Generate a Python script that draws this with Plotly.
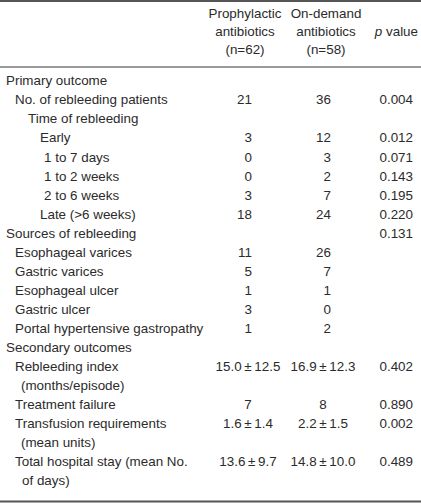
import plotly.graph_objects as go

# ---------------- data ----------------
row_labels = [
    "Primary outcome",
    "No. of rebleeding patients",
    "Time of rebleeding",
    "Early",
    "1 to 7 days",
    "1 to 2 weeks",
    "2 to 6 weeks",
    "Late (>6 weeks)",
    "Sources of rebleeding",
    "Esophageal varices",
    "Gastric varices",
    "Esophageal ulcer",
    "Gastric ulcer",
    "Portal hypertensive gastropathy",
    "Secondary outcomes",
    "Rebleeding index",
    "(months/episode)",
    "Treatment failure",
    "Transfusion requirements",
    "(mean units)",
    "Total hospital stay (mean No.",
    "of days)",
]
PM = "\u2009\u00b1\u2009"
prophylactic = ["", "21", "", "3", "0", "0", "3", "18", "", "11", "5", "1", "3", "1",
                "", "15.0" + PM + "12.5", "", "7", "1.6" + PM + "1.4", "", "13.6" + PM + "9.7", ""]
on_demand = ["", "36", "", "12", "3", "2", "7", "24", "", "26", "7", "1", "0", "2",
             "", "16.9" + PM + "12.3", "", "8", "2.2" + PM + "1.5", "", "14.8" + PM + "10.0", ""]
p_values = ["", "0.004", "", "0.012", "0.071", "0.143", "0.195", "0.220", "0.131",
            "", "", "", "", "", "", "0.402", "", "0.890", "0.002", "", "0.489", ""]
header_col1 = ["Prophylactic", "antibiotics", "(n=62)"]
header_col2 = ["On-demand", "antibiotics", "(n=58)"]
header_col3 = ["", "<i>p</i> value", ""]

# ---------------- layout constants ----------------
W, H = 421, 503
FONT = dict(family="Liberation Sans, Arial, sans-serif", size=13.4, color="#2b2b2b")
indent_px = [6, 15, 28, 40, 44, 44, 44, 40, 6, 15, 15, 15, 15, 15, 6, 15, 21, 15, 15, 21, 15, 22]
row_y = [82 + i * 19.05 for i in range(len(row_labels))]
header_y = [15, 33, 51]
secondary = [i >= 14 for i in range(len(row_labels))]

fig = go.Figure()

# row labels
fig.add_trace(go.Scatter(
    x=indent_px, y=row_y, text=row_labels, mode="text",
    textposition="middle right", textfont=FONT, hoverinfo="skip", showlegend=False))

# column 1
c1x = [248 if s else 252 for s in secondary]
c1pos = ["middle center" if s else "middle left" for s in secondary]
fig.add_trace(go.Scatter(
    x=c1x, y=row_y, text=prophylactic, mode="text",
    textposition=c1pos, textfont=FONT, hoverinfo="skip", showlegend=False))

# column 2
c2x = [323 if s else 331 for s in secondary]
c2pos = ["middle center" if s else "middle left" for s in secondary]
fig.add_trace(go.Scatter(
    x=c2x, y=row_y, text=on_demand, mode="text",
    textposition=c2pos, textfont=FONT, hoverinfo="skip", showlegend=False))

# column 3
fig.add_trace(go.Scatter(
    x=[413] * len(row_y), y=row_y, text=p_values, mode="text",
    textposition="middle left", textfont=FONT, hoverinfo="skip", showlegend=False))

# headers
fig.add_trace(go.Scatter(
    x=[245] * 3, y=header_y, text=header_col1, mode="text",
    textposition="middle center", textfont=FONT, hoverinfo="skip", showlegend=False))
fig.add_trace(go.Scatter(
    x=[326] * 3, y=header_y, text=header_col2, mode="text",
    textposition="middle center", textfont=FONT, hoverinfo="skip", showlegend=False))
fig.add_trace(go.Scatter(
    x=[418] * 3, y=header_y, text=header_col3, mode="text",
    textposition="middle left", textfont=FONT, hoverinfo="skip", showlegend=False))

# rules
for yy, col in [(1, "#555555"), (67, "#9a9a9a"), (501.5, "#555555")]:
    fig.add_shape(type="line", xref="paper", x0=0, x1=1, yref="y", y0=yy, y1=yy,
                  line=dict(color=col, width=2))

fig.update_layout(
    width=W, height=H,
    margin=dict(l=0, r=0, t=0, b=0),
    paper_bgcolor="white", plot_bgcolor="white",
    xaxis=dict(range=[0, W], visible=False, fixedrange=True),
    yaxis=dict(range=[H, 0], visible=False, fixedrange=True),
)

fig.write_html("out.html", config={"displayModeBar": False, "staticPlot": True},
               post_script="document.body.style.margin='0';")
